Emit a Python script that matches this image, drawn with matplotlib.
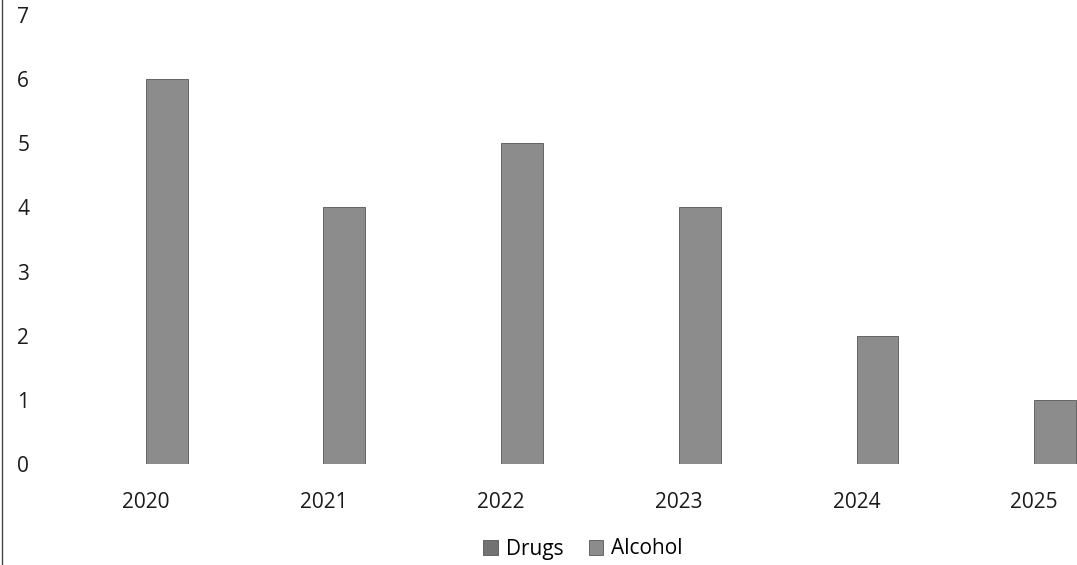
import numpy as np
import matplotlib
matplotlib.use("Agg")
import matplotlib.pyplot as plt
from matplotlib.lines import Line2D

# data
years = ["2020", "2021", "2022", "2023", "2024", "2025"]
drugs = [0, 0, 0, 0, 0, 0]
alcohol = [6, 4, 5, 4, 2, 1]
series_names = ["Drugs", "Alcohol"]
yticks = [0, 1, 2, 3, 4, 5, 6, 7]

plt.rcParams['font.family'] = ['Open Sans', 'DejaVu Sans']

fig = plt.figure(figsize=(10.77, 5.65), dpi=100)
ax = fig.add_axes([57 / 1077, 101 / 565, 1066 / 1077, 449 / 565])

x = np.arange(len(years))
w = 0.236
ax.bar(x - w / 2, drugs, width=w, color="#727272", edgecolor="#555555",
       linewidth=0.6, label=series_names[0])
ax.bar(x + w / 2, alcohol, width=w, color="#8c8c8c", edgecolor="#555555",
       linewidth=0.6, label=series_names[1])

ax.set_xlim(-0.5, len(years) - 0.5)
ax.set_ylim(0, 7)
ax.set_xticks(x)
ax.set_xticklabels(years)
ax.set_yticks(yticks)
ax.tick_params(axis="both", length=0, labelsize=15, colors="#1a1a1a")
ax.tick_params(axis="x", pad=20)
ax.tick_params(axis="y", pad=20)
for s in ax.spines.values():
    s.set_visible(False)

fig.legend(loc="center", bbox_to_anchor=(583 / 1077, 1 - 549 / 565),
           ncol=2, frameon=False, fontsize=15, handlelength=0.7,
           handleheight=0.7, handletextpad=0.4, columnspacing=1.2)

# left edge line of the scanned chart frame
fig.add_artist(Line2D([2.5 / 1077, 2.5 / 1077], [0, 1], color="#444444",
                      linewidth=1.0, transform=fig.transFigure))

fig.savefig("out.png", dpi=100)
